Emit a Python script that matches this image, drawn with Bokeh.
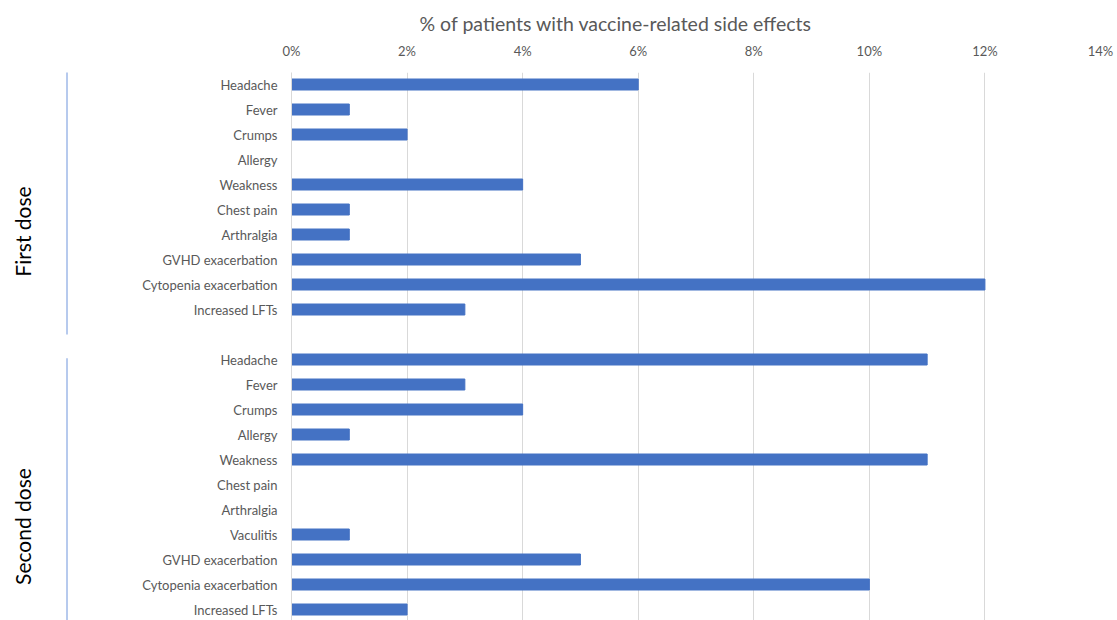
import math
from bokeh.plotting import figure
from bokeh.layouts import row
from bokeh.models import Range1d, FixedTicker
from bokeh.core.properties import value
from bokeh.embed import file_html
from bokeh.resources import INLINE

title_text = "% of patients with vaccine-related side effects"

first_labels = ["Headache", "Fever", "Crumps", "Allergy", "Weakness", "Chest pain",
                "Arthralgia", "GVHD exacerbation", "Cytopenia exacerbation", "Increased LFTs"]
first_values = [6, 1, 2, 0, 4, 1, 1, 5, 12, 3]

second_labels = ["Headache", "Fever", "Crumps", "Allergy", "Weakness", "Chest pain",
                 "Arthralgia", "Vaculitis", "GVHD exacerbation", "Cytopenia exacerbation",
                 "Increased LFTs"]
second_values = [11, 3, 4, 1, 11, 0, 0, 1, 5, 10, 2]

group_names = ["First dose", "Second dose"]
x_ticks = [0, 2, 4, 6, 8, 10, 12, 14]

FONT = "Lato"
BAR = "#4472C4"
GREY = "#595959"
BRACKET = "#6f95dc"

# row positions: first group, one empty row, second group
first_pos = list(range(len(first_labels)))
second_pos = [len(first_labels) + 1 + i for i in range(len(second_labels))]

y_range = Range1d(21.44, -0.48)

# ---- main chart ----
p = figure(width=1017, height=620, output_backend="svg", toolbar_location=None,
           x_axis_location="above", title=title_text,
           x_range=Range1d(0, 14), y_range=y_range,
           min_border_left=191, min_border_right=17, min_border_top=72,
           min_border_bottom=0)
p.outline_line_color = None
p.background_fill_color = "white"
p.border_fill_color = "white"

p.title.text_font = FONT
p.title.text_font_size = "19.5px"
p.title.text_font_style = "normal"
p.title.text_color = GREY
p.title.align = "left"
p.title.offset = 128

p.hbar(y=first_pos, right=first_values, left=0, height=0.44, color=BAR)
p.hbar(y=second_pos, right=second_values, left=0, height=0.44, color=BAR)

# x axis (top)
p.xaxis.ticker = FixedTicker(ticks=x_ticks)
p.xaxis.major_label_overrides = {t: f"{t}%" for t in x_ticks}
p.xaxis.axis_line_color = None
p.xaxis.major_tick_line_color = None
p.xaxis.minor_tick_line_color = None
p.xaxis.major_label_standoff = 8
p.xaxis.major_label_text_font = FONT
p.xaxis.major_label_text_font_size = "13px"
p.xaxis.major_label_text_color = GREY

p.xgrid.ticker = FixedTicker(ticks=x_ticks)
p.xgrid.grid_line_color = "#d9d9d9"
p.xgrid.grid_line_width = 1
p.ygrid.grid_line_color = None

# y axis (categories)
all_pos = first_pos + second_pos
all_labels = first_labels + second_labels
p.yaxis.ticker = FixedTicker(ticks=all_pos)
p.yaxis.major_label_overrides = {pos: lab for pos, lab in zip(all_pos, all_labels)}
p.yaxis.axis_line_color = "#d9d9d9"
p.yaxis.major_tick_line_color = None
p.yaxis.minor_tick_line_color = None
p.yaxis.major_label_standoff = 8
p.yaxis.major_label_text_font = FONT
p.yaxis.major_label_text_font_size = "13px"
p.yaxis.major_label_text_color = GREY

# ---- left strip: group labels and brackets ----
g = figure(width=100, height=620, output_backend="svg", toolbar_location=None,
           x_range=Range1d(0, 100), y_range=y_range,
           min_border_left=0, min_border_right=0, min_border_top=72,
           min_border_bottom=0)
g.axis.visible = False
g.grid.visible = False
g.outline_line_color = None
g.border_fill_color = "white"

bracket_top = [first_pos[0] - 0.5, second_pos[0] - 0.05]
bracket_bottom = [first_pos[-1] + 1.0, second_pos[-1] + 0.6]
g.segment(x0=[66.5, 66.5], x1=[66.5, 66.5], y0=bracket_top, y1=bracket_bottom,
          line_color=BRACKET, line_width=1)

label_y = [sum(first_pos) / len(first_pos) + 1.38, sum(second_pos) / len(second_pos) + 1.68]
g.text(x=[22, 22], y=label_y, text=group_names, angle=math.pi / 2,
       text_align="center", text_baseline="middle", text_font=value(FONT),
       text_font_size="21px", text_color="black")

layout = row(g, p)
open("out.html", "w").write(file_html(layout, INLINE))
